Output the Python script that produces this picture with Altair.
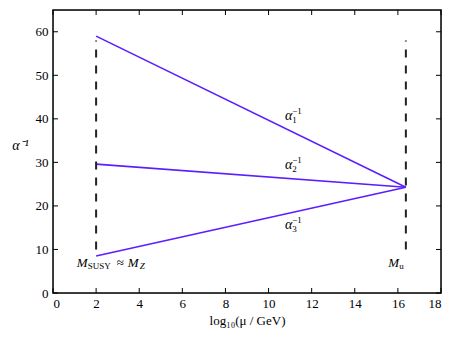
import altair as alt
import pandas as pd

# ---- data ----
series = ["a1", "a2", "a3"]
x_start = [2.0, 2.0, 2.0]
x_end = [16.37, 16.37, 16.37]
y_start = [59.0, 29.6, 8.5]
y_end = [24.3, 24.3, 24.3]

dash_x = [2.0, 16.37]
dash_lo = [10.0, 10.0]
dash_hi = [58.0, 58.0]

label_sub = ["1", "2", "3"]
label_x = [11.1, 11.1, 11.1]
label_y = [40.6, 29.4, 15.7]

mark_text_x = [1.1, 15.55]
mark_text_y = [7.0, 7.0]

xticks = [0, 2, 4, 6, 8, 10, 12, 14, 16, 18]
yticks = [0, 10, 20, 30, 40, 50, 60]

W, H = 388, 283
SERIF = "Liberation Serif, Times New Roman, serif"
LINE = "#5a1eff"

rows = []
for s, xa, xb, ya, yb in zip(series, x_start, x_end, y_start, y_end):
    rows.append({"s": s, "x": xa, "y": ya})
    rows.append({"s": s, "x": xb, "y": yb})
lines_df = pd.DataFrame(rows)
dash_df = pd.DataFrame({"x": dash_x, "lo": dash_lo, "hi": dash_hi})
lab_df = pd.DataFrame({"sub": label_sub, "x": label_x, "y": label_y})
xt_df = pd.DataFrame({"v": xticks})
yt_df = pd.DataFrame({"v": yticks})
one = pd.DataFrame({"k": [0]})

xs = alt.Scale(domain=[0, 18], nice=False)
ys = alt.Scale(domain=[0, 65], nice=False)

xaxis = alt.Axis(values=xticks, ticks=False, domain=False, grid=False,
                 labelFont=SERIF, labelFontSize=13, labelColor="black",
                 labelPadding=4, title="log₁₀(μ / GeV)", titleFont=SERIF,
                 titleFontSize=13, titleFontWeight="normal", titleColor="black",
                 titlePadding=4)
yaxis = alt.Axis(values=yticks, ticks=False, domain=False, grid=False,
                 labelFont=SERIF, labelFontSize=13, labelColor="black",
                 labelPadding=5, title="α⁻¹", titleFont=SERIF, titleFontSize=14,
                 titleFontWeight="normal", titleFontStyle="italic",
                 titleColor="black", titleAngle=0, titleX=-33, titleY=135,
                 titleAlign="center", titleBaseline="middle")


def X(f):
    return alt.X(f, type="quantitative", scale=xs, axis=xaxis)


def Y(f):
    return alt.Y(f, type="quantitative", scale=ys, axis=yaxis)


lines = alt.Chart(lines_df).mark_line(color=LINE, strokeWidth=1.6).encode(
    x=X("x"), y=Y("y"), detail="s:N")

dashes = alt.Chart(dash_df).mark_rule(color="#222222", strokeWidth=2,
                                       strokeDash=[8, 8]).encode(
    x=X("x"), y=Y("lo"), y2="hi:Q")

# inward ticks on all four sides
tb = alt.Chart(xt_df).mark_rule(color="black", strokeWidth=1).encode(
    x=X("v"), y=alt.value(H), y2=alt.value(H - 5))
tt = alt.Chart(xt_df).mark_rule(color="black", strokeWidth=1).encode(
    x=X("v"), y=alt.value(0), y2=alt.value(5))
tl = alt.Chart(yt_df).mark_rule(color="black", strokeWidth=1).encode(
    y=Y("v"), x=alt.value(0), x2=alt.value(5))
tr = alt.Chart(yt_df).mark_rule(color="black", strokeWidth=1).encode(
    y=Y("v"), x=alt.value(W), x2=alt.value(W - 5))

border = alt.Chart(one).mark_rect(fill=None, stroke="black",
                                  strokeWidth=1.5).encode(
    x=alt.value(0), x2=alt.value(W), y=alt.value(0), y2=alt.value(H))

# alpha labels: α with stacked sub/superscript
lb = alt.Chart(lab_df)
a_base = lb.mark_text(text="α", font=SERIF, fontSize=14, fontStyle="italic",
                      align="right", baseline="middle", color="black").encode(
    x=X("x"), y=Y("y"))
a_sub = lb.mark_text(font=SERIF, fontSize=9, align="left", baseline="middle",
                     dy=4, color="black").encode(text="sub:N", x=X("x"), y=Y("y"))
a_sup = lb.mark_text(text="−1", font=SERIF, fontSize=9, align="left",
                     baseline="middle", dy=-5, color="black").encode(
    x=X("x"), y=Y("y"))

# M_SUSY ≈ M_Z and M_u
m1 = pd.DataFrame({"x": [mark_text_x[0]], "y": [mark_text_y[0]]})
m2 = pd.DataFrame({"x": [mark_text_x[1]], "y": [mark_text_y[1]]})


def piece(df, txt, dx, dy=0, size=13, style="italic"):
    return alt.Chart(df).mark_text(text=txt, font=SERIF, fontSize=size,
                                   fontStyle=style, align="left",
                                   baseline="middle", dx=dx, dy=dy,
                                   color="black").encode(x=X("x"), y=Y("y"))


msusy = [piece(m1, "M", 0), piece(m1, "SUSY", 11, 3, 9, "normal"),
         piece(m1, "≈", 40, 0, 13, "normal"), piece(m1, "M", 51),
         piece(m1, "Z", 63, 3, 9)]
mu = [piece(m2, "M", 0), piece(m2, "u", 11, 3, 9, "normal")]

chart = alt.layer(lines, dashes, tb, tt, tl, tr, border, a_base, a_sub, a_sup,
                  *msusy, *mu).properties(
    width=W, height=H,
    autosize=alt.AutoSizeParams(type="none"),
    padding={"left": 45, "top": 2, "right": 9, "bottom": 44},
).configure_view(stroke=None).configure(
    background="white", font=SERIF
).configure_axis(labelFont=SERIF, titleFont=SERIF)

chart.save("out.html", embed_options={"renderer": "svg", "actions": False})
